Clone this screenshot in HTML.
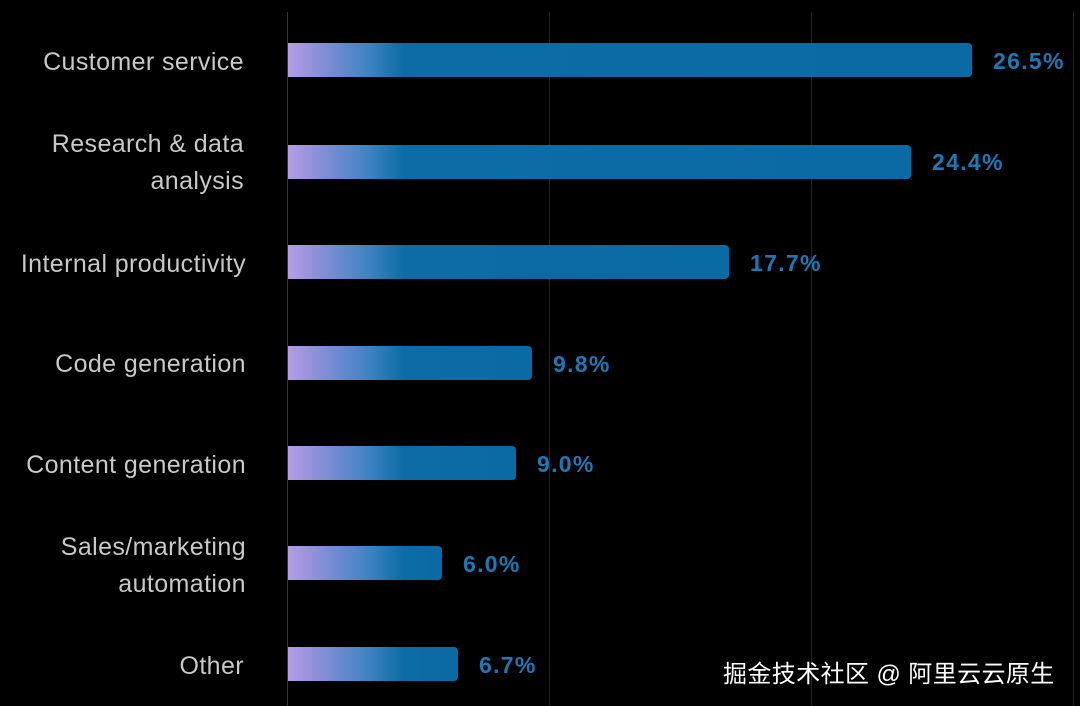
<!DOCTYPE html>
<html><head><meta charset="utf-8"><style>
body{margin:0;width:1080px;height:706px;background:#000;overflow:hidden;position:relative;font-family:"Liberation Sans","Noto Sans CJK SC",sans-serif}
.g{position:absolute;top:12px;bottom:0;width:1px;background:#222}
.bar{position:absolute;left:288px;height:34px;border-radius:0 4px 4px 0;background:linear-gradient(90deg,#b59ee8 0px,#8a8fd8 30px,#3f83c2 80px,#0d6ca6 115px,#0a6aa4 100%)}
.v{position:absolute;color:#1c79b5;font-size:23px;font-weight:bold;letter-spacing:1.3px}
.l{position:absolute;right:836px;color:#c8c8c8;font-size:25px;text-align:right;line-height:37px;letter-spacing:0.4px}
.wm{position:absolute;left:723px;top:654px;color:#fff;font-size:24px;letter-spacing:0.4px}
</style></head><body>
<div class="g" style="left:287px;background:#333"></div>
<div class="g" style="left:549px"></div>
<div class="g" style="left:811px"></div>
<div class="g" style="left:1073px"></div>

<div class="bar" style="top:43px;width:684px"></div><div class="v" style="left:993px;top:48px">26.5%</div>
<div class="bar" style="top:145px;width:623px"></div><div class="v" style="left:932px;top:149px">24.4%</div>
<div class="bar" style="top:245px;width:441px"></div><div class="v" style="left:750px;top:250px">17.7%</div>
<div class="bar" style="top:346px;width:244px"></div><div class="v" style="left:553px;top:351px">9.8%</div>
<div class="bar" style="top:446px;width:228px"></div><div class="v" style="left:537px;top:451px">9.0%</div>
<div class="bar" style="top:546px;width:154px"></div><div class="v" style="left:463px;top:551px">6.0%</div>
<div class="bar" style="top:647px;width:170px"></div><div class="v" style="left:479px;top:652px">6.7%</div>

<div class="l" style="top:44px">Customer service</div>
<div class="l" style="top:126px">Research &amp; data<br>analysis</div>
<div class="l" style="top:246px;right:834px">Internal productivity</div>
<div class="l" style="top:346px;right:834px">Code generation</div>
<div class="l" style="top:447px;right:834px">Content generation</div>
<div class="l" style="top:529px;right:834px">Sales/marketing<br>automation</div>
<div class="l" style="top:648px">Other</div>
<div class="wm">掘金技术社区 @ 阿里云云原生</div>
</body></html>
